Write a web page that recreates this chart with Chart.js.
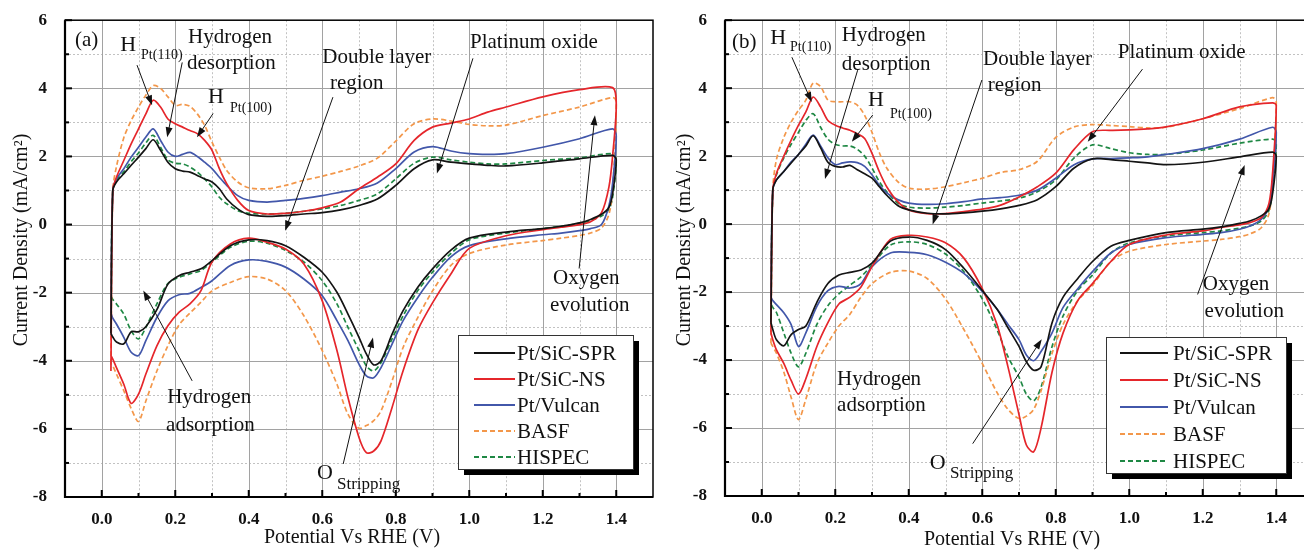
<!DOCTYPE html>
<html lang="en">
<head>
<meta charset="UTF-8" />
<title>Cyclic voltammograms (a) and (b)</title>
<script src="https://cdn.jsdelivr.net/npm/chart.js"></script>
<style>
  html, body { margin: 0; padding: 0; background: #fff; overflow: hidden; width: 1304px; height: 550px; }
  .painel { position: absolute; top: 0; width: 660px; height: 550px; }
  #painelA { left: 0; }
  #painelB { left: 660px; }
</style>
</head>
<body>
<div class="painel" id="painelA"><canvas id="chartA" width="660" height="550"></canvas></div>
<div class="painel" id="painelB"><canvas id="chartB" width="660" height="550"></canvas></div>
<script>
// ---- series / ticks ----
const seriesNames = ['Pt/SiC-SPR', 'Pt/SiC-NS', 'Pt/Vulcan', 'BASF', 'HISPEC'];
const xTicks = [0.0, 0.2, 0.4, 0.6, 0.8, 1.0, 1.2, 1.4];
const xMinor = [0.1, 0.3, 0.5, 0.7, 0.9, 1.1, 1.3];
const yTicks = [-8, -6, -4, -2, 0, 2, 4, 6];
const yMinor = [-7, -5, -3, -1, 1, 3, 5];

// potential (V vs RHE) of the anodic and cathodic sweeps
const fwdV = [0.025, 0.03, 0.04, 0.06, 0.08, 0.10, 0.12, 0.14, 0.16, 0.18, 0.20, 0.22, 0.24, 0.26, 0.28, 0.30, 0.32, 0.34, 0.37, 0.40,
              0.45, 0.50, 0.55, 0.60, 0.65, 0.70, 0.75, 0.80, 0.85, 0.90, 0.95, 1.00, 1.05, 1.10, 1.20, 1.30, 1.39];
const revV = [1.40, 1.39, 1.38, 1.36, 1.33, 1.30, 1.25, 1.20, 1.10, 1.00, 0.95, 0.90, 0.86, 0.82, 0.79, 0.76, 0.74, 0.72, 0.70, 0.67,
              0.64, 0.60, 0.55, 0.50, 0.45, 0.40, 0.35, 0.30, 0.27, 0.24, 0.21, 0.18, 0.15, 0.12, 0.10, 0.08, 0.06, 0.04, 0.03, 0.025];

// panel (a) current density, mA/cm2
const aSprFwd  = [-3.2, 1.0, 1.25, 1.49, 1.74, 1.98, 2.23, 2.49, 2.18, 1.83, 1.64, 1.57, 1.54, 1.44, 1.34, 1.25, 1.05, 0.75, 0.46, 0.29,
                  0.24, 0.26, 0.31, 0.35, 0.43, 0.56, 0.75, 1.15, 1.64, 1.9, 1.83, 1.78, 1.74, 1.72, 1.81, 1.93, 2.03];
const aNsFwd   = [-4.3, 1.0, 1.39, 1.88, 2.37, 2.81, 3.25, 3.65, 3.45, 3.1, 2.96, 2.86, 2.76, 2.67, 2.47, 2.18, 1.64, 1.2, 0.71, 0.41,
                  0.31, 0.33, 0.39, 0.49, 0.66, 1.05, 1.39, 1.78, 2.47, 2.86, 2.98, 3.1, 3.3, 3.45, 3.75, 3.96, 4.02];
const aVulFwd  = [-2.6, 1.0, 1.34, 1.64, 1.98, 2.27, 2.57, 2.81, 2.47, 2.13, 2.0, 2.06, 2.12, 2.0, 1.83, 1.64, 1.39, 1.15, 0.85, 0.71,
                  0.66, 0.71, 0.77, 0.85, 0.95, 1.05, 1.22, 1.64, 2.13, 2.29, 2.16, 2.08, 2.06, 2.08, 2.27, 2.52, 2.81];
const aBasfFwd = [-4.1, 1.0, 1.7, 2.55, 3.05, 3.45, 3.8, 4.08, 4.0, 3.75, 3.5, 3.53, 3.47, 3.25, 2.91, 2.42, 1.98, 1.59, 1.25, 1.08,
                  1.05, 1.15, 1.3, 1.42, 1.56, 1.72, 1.95, 2.45, 2.96, 3.1, 3.04, 2.94, 2.9, 2.92, 3.2, 3.45, 3.73];
const aHisFwd  = [-2.2, 1.0, 1.3, 1.55, 1.85, 2.1, 2.4, 2.62, 2.27, 1.9, 1.8, 1.78, 1.69, 1.54, 1.34, 1.1, 0.8, 0.61, 0.41, 0.33,
                  0.31, 0.33, 0.39, 0.46, 0.56, 0.71, 0.9, 1.34, 1.8, 1.98, 1.9, 1.83, 1.78, 1.78, 1.88, 1.96, 2.08];

const aSprRev  = [1.9, 0.9, 0.5, 0.3, 0.15, 0.05, -0.05, -0.12, -0.22, -0.4, -0.75, -1.3, -1.84, -2.53, -3.22, -4.0, -4.12, -3.8, -3.31, -2.63,
                  -1.99, -1.4, -0.96, -0.62, -0.47, -0.45, -0.62, -1.06, -1.3, -1.4, -1.5, -1.75, -2.5, -3.0, -3.15, -3.15, -3.5, -3.45, -3.3, -3.2];
const aNsRev   = [3.5, 2.0, 1.1, 0.35, 0.08, 0.0, -0.08, -0.15, -0.33, -0.7, -1.45, -2.3, -3.1, -4.29, -5.37, -6.35, -6.65, -6.7, -6.25, -5.08,
                  -3.7, -2.24, -1.16, -0.72, -0.52, -0.4, -0.57, -1.1, -1.94, -2.33, -2.58, -2.97, -3.56, -4.39, -4.98, -5.25, -4.69, -4.2, -3.95, -3.85];
const aVulRev  = [2.6, 1.2, 0.55, 0.0, -0.12, -0.18, -0.25, -0.3, -0.42, -0.62, -0.95, -1.55, -2.14, -2.82, -3.51, -4.2, -4.5, -4.44, -4.1, -3.41,
                  -2.82, -2.09, -1.6, -1.25, -1.08, -1.04, -1.2, -1.65, -1.85, -2.02, -2.06, -2.24, -2.73, -3.41, -3.85, -3.75, -3.31, -2.92, -2.75, -2.6];
const aBasfRev = [3.6, 1.0, 0.3, -0.1, -0.25, -0.32, -0.4, -0.47, -0.6, -0.85, -1.2, -1.95, -2.73, -3.61, -4.59, -5.47, -5.76, -5.9, -5.98, -5.57,
                  -4.69, -3.7, -2.68, -1.94, -1.6, -1.53, -1.7, -1.95, -2.28, -2.6, -2.95, -3.56, -4.3, -5.18, -5.78, -5.4, -4.88, -4.39, -4.15, -4.1];
const aHisRev  = [1.9, 0.8, 0.45, 0.25, 0.12, 0.04, -0.05, -0.12, -0.25, -0.45, -0.85, -1.4, -1.94, -2.68, -3.36, -4.05, -4.3, -4.15, -3.7, -3.02,
                  -2.33, -1.65, -1.1, -0.76, -0.55, -0.49, -0.67, -1.1, -1.35, -1.45, -1.55, -1.73, -2.33, -3.02, -3.36, -3.12, -2.63, -2.33, -2.2, -2.1];

// panel (b)
const bSprFwd  = [-2.9, 1.0, 1.3, 1.55, 1.8, 2.05, 2.3, 2.6, 2.25, 1.82, 1.7, 1.68, 1.73, 1.6, 1.48, 1.35, 1.1, 0.85, 0.55, 0.42,
                  0.32, 0.3, 0.33, 0.38, 0.45, 0.55, 0.72, 1.1, 1.65, 1.92, 1.9, 1.85, 1.8, 1.75, 1.82, 1.98, 2.12];
const bNsFwd   = [-3.2, 1.0, 1.49, 2.0, 2.47, 2.91, 3.3, 3.74, 3.45, 3.05, 2.91, 2.83, 2.76, 2.66, 2.52, 2.08, 1.54, 1.1, 0.66, 0.42,
                  0.31, 0.31, 0.37, 0.44, 0.56, 0.8, 1.1, 1.5, 2.2, 2.72, 2.76, 2.77, 2.8, 2.86, 3.1, 3.45, 3.57];
const bVulFwd  = [-2.15, 1.0, 1.3, 1.55, 1.83, 2.05, 2.35, 2.62, 2.3, 1.95, 1.75, 1.8, 1.83, 1.81, 1.7, 1.45, 1.15, 0.92, 0.72, 0.62,
                  0.58, 0.6, 0.66, 0.74, 0.78, 0.85, 1.0, 1.35, 1.75, 1.92, 1.93, 1.95, 1.98, 2.05, 2.22, 2.5, 2.85];
const bBasfFwd = [-3.5, 1.0, 1.9, 2.55, 3.0, 3.35, 3.65, 4.15, 4.05, 3.65, 3.6, 3.6, 3.6, 3.5, 3.2, 2.7, 2.1, 1.65, 1.25, 1.06,
                  1.03, 1.1, 1.22, 1.35, 1.52, 1.6, 1.85, 2.55, 2.86, 2.93, 2.9, 2.87, 2.83, 2.85, 3.1, 3.4, 3.72];
const bHisFwd  = [-2.35, 1.0, 1.45, 1.95, 2.35, 2.7, 3.05, 3.25, 2.85, 2.5, 2.35, 2.3, 2.3, 2.2, 2.0, 1.65, 1.25, 0.95, 0.62, 0.5,
                  0.47, 0.5, 0.55, 0.62, 0.68, 0.76, 0.95, 1.3, 1.95, 2.33, 2.22, 2.1, 2.05, 2.05, 2.18, 2.38, 2.5];

const bSprRev  = [2.0, 0.9, 0.45, 0.25, 0.1, 0.02, -0.08, -0.15, -0.25, -0.48, -0.65, -1.1, -1.6, -2.15, -2.9, -4.2, -4.3, -4.05, -3.6, -3.05,
                  -2.5, -1.95, -1.3, -0.75, -0.48, -0.38, -0.5, -1.15, -1.35, -1.42, -1.5, -1.75, -2.3, -3.0, -3.1, -3.25, -3.58, -3.4, -3.1, -2.9];
const bNsRev   = [3.5, 1.5, 0.6, 0.2, 0.05, -0.02, -0.1, -0.2, -0.32, -0.6, -1.1, -1.75, -2.25, -3.2, -4.35, -6.0, -6.7, -6.5, -5.6, -4.2,
                  -2.95, -1.9, -1.0, -0.55, -0.38, -0.33, -0.45, -1.25, -1.85, -2.15, -2.35, -2.9, -3.6, -4.55, -5.0, -4.6, -4.1, -3.7, -3.4, -3.2];
const bVulRev  = [2.7, 1.2, 0.5, 0.15, -0.05, -0.15, -0.25, -0.3, -0.4, -0.6, -0.85, -1.4, -1.9, -2.45, -3.2, -3.75, -4.02, -3.85, -3.4, -2.95,
                  -2.5, -1.98, -1.45, -1.12, -0.9, -0.83, -0.85, -1.25, -1.75, -1.88, -1.83, -1.96, -2.42, -3.2, -3.6, -2.96, -2.61, -2.37, -2.25, -2.15];
const bBasfRev = [3.6, 1.2, 0.3, -0.1, -0.28, -0.37, -0.45, -0.5, -0.6, -0.8, -1.1, -1.8, -2.25, -2.95, -3.8, -4.9, -5.45, -5.65, -5.72, -5.45,
                  -4.95, -4.1, -3.1, -2.2, -1.6, -1.38, -1.42, -1.75, -2.15, -2.65, -3.0, -3.5, -4.1, -5.15, -5.75, -5.1, -4.35, -3.8, -3.6, -3.5];
const bHisRev  = [2.4, 1.0, 0.4, 0.1, -0.05, -0.12, -0.2, -0.25, -0.35, -0.55, -0.85, -1.5, -1.95, -2.7, -3.6, -4.8, -5.2, -5.0, -4.5, -3.9,
                  -3.1, -2.2, -1.4, -0.88, -0.6, -0.52, -0.62, -1.2, -1.55, -1.8, -2.05, -2.4, -2.95, -3.8, -4.2, -3.8, -3.2, -2.6, -2.45, -2.35];

// ---- styles ----
const FONT = "'Liberation Serif', 'Times New Roman', Times, serif";
const seriesColors = ['#141414', '#e5262b', '#4257aa', '#f3974a', '#1f8844'];
const seriesDash = [[], [], [], [5, 3], [5, 3]];

// annotations in data units (V, mA/cm2); legend and titles in canvas pixels
const decorConfig = {
  chartA: {
    notes: [
      ['(a)', -0.073, 5.41, 21], ['H', 0.050, 5.26, 22], ['Pt(110)', 0.107, 4.97, 14],
      ['Hydrogen', 0.235, 5.5, 21], ['desorption', 0.232, 4.74, 21],
      ['H', 0.289, 3.74, 22], ['Pt(100)', 0.349, 3.41, 14],
      ['Double layer', 0.6, 4.91, 21], ['region', 0.621, 4.15, 21],
      ['Platinum oxide', 1.002, 5.35, 21],
      ['Oxygen', 1.228, -1.59, 21], ['evolution', 1.22, -2.38, 21],
      ['Hydrogen', 0.178, -5.09, 21], ['adsorption', 0.175, -5.91, 21],
      ['O', 0.586, -7.29, 22], ['Stripping', 0.64, -7.62, 17]
    ],
    arrows: [
      [0.096, 4.68, 0.137, 3.5], [0.219, 4.76, 0.178, 2.56], [0.303, 3.26, 0.259, 2.56],
      [0.629, 3.74, 0.499, -0.18], [1.01, 4.88, 0.912, 1.5], [1.299, -1.29, 1.342, 3.21],
      [0.246, -4.59, 0.113, -1.94], [0.657, -7.03, 0.738, -3.32]
    ],
    legend: { left: 458, top: 335, w: 175, h: 134, first: 18, step: 26, x1: 16, x2: 57, tx: 59 },
    yTitle: [22, 240], xTitle: [352, 538]
  },
  chartB: {
    notes: [
      ['(b)', -0.081, 5.35, 21], ['H', 0.023, 5.47, 22], ['Pt(110)', 0.077, 5.21, 14],
      ['Hydrogen', 0.218, 5.56, 21], ['desorption', 0.218, 4.71, 21],
      ['H', 0.289, 3.65, 22], ['Pt(100)', 0.349, 3.24, 14],
      ['Double layer', 0.602, 4.85, 21], ['region', 0.615, 4.09, 21],
      ['Platinum oxide', 0.969, 5.06, 21],
      ['Oxygen', 1.2, -1.77, 21], ['evolution', 1.205, -2.57, 21],
      ['Hydrogen', 0.205, -4.56, 21], ['adsorption', 0.205, -5.35, 21],
      ['O', 0.457, -7.05, 22], ['Stripping', 0.512, -7.35, 17]
    ],
    arrows: [
      [0.082, 4.91, 0.136, 3.59], [0.261, 4.53, 0.172, 1.33], [0.302, 3.21, 0.245, 2.42],
      [0.599, 4.24, 0.465, -0.01], [1.036, 4.56, 0.887, 2.42], [1.186, -2.07, 1.314, 1.74],
      [0.574, -6.46, 0.762, -3.39]
    ],
    legend: { left: 446, top: 337, w: 180, h: 136, first: 16, step: 27, x1: 14, x2: 62, tx: 67 },
    yTitle: [25, 240], xTitle: [352, 540]
  }
};

function loop(fwd, rev) {
  const pts = fwdV.map((v, i) => ({ x: v, y: fwd[i] }));
  revV.forEach((v, i) => pts.push({ x: v, y: rev[i] }));
  return pts;
}

function arrow(ctx, x1, y1, x2, y2) {
  const ang = Math.atan2(y2 - y1, x2 - x1);
  const len = 10, w = 3.5;
  const c = Math.cos(ang), s = Math.sin(ang);
  ctx.beginPath();
  ctx.moveTo(x1, y1);
  ctx.lineTo(x2 - c * len * 0.7, y2 - s * len * 0.7);
  ctx.stroke();
  ctx.beginPath();
  ctx.moveTo(x2, y2);
  ctx.lineTo(x2 - c * len + s * w, y2 - s * len - c * w);
  ctx.lineTo(x2 - c * len - s * w, y2 - s * len + c * w);
  ctx.closePath();
  ctx.fill();
}

const decor = {
  id: 'decor',
  beforeDatasetsDraw(chart) {
    const { ctx, chartArea: a, scales: { x, y } } = chart;
    ctx.save();
    ctx.lineWidth = 1;
    ctx.strokeStyle = '#c2c2c2';
    ctx.setLineDash([2, 2]);
    xMinor.forEach(v => { const px = Math.round(x.getPixelForValue(v)) + 0.5; ctx.beginPath(); ctx.moveTo(px, a.top); ctx.lineTo(px, a.bottom); ctx.stroke(); });
    yMinor.forEach(v => { const py = Math.round(y.getPixelForValue(v)) + 0.5; ctx.beginPath(); ctx.moveTo(a.left, py); ctx.lineTo(a.right, py); ctx.stroke(); });
    ctx.setLineDash([]);
    ctx.strokeStyle = '#a2a2a2';
    xTicks.forEach(v => { const px = Math.round(x.getPixelForValue(v)) + 0.5; ctx.beginPath(); ctx.moveTo(px, a.top); ctx.lineTo(px, a.bottom); ctx.stroke(); });
    yTicks.slice(1, -1).forEach(v => { const py = Math.round(y.getPixelForValue(v)) + 0.5; ctx.beginPath(); ctx.moveTo(a.left, py); ctx.lineTo(a.right, py); ctx.stroke(); });
    ctx.restore();
  },
  afterDatasetsDraw(chart) {
    const { ctx, chartArea: a, scales: { x, y } } = chart;
    const cfg = decorConfig[chart.canvas.id];
    ctx.save();
    // frame
    ctx.strokeStyle = '#000';
    ctx.lineWidth = 1.5;
    ctx.strokeRect(a.left, a.top, a.right - a.left, a.bottom - a.top);
    ctx.lineWidth = 2.2;
    ctx.beginPath();
    ctx.moveTo(a.left, a.top); ctx.lineTo(a.left, a.bottom); ctx.lineTo(a.right, a.bottom);
    ctx.stroke();
    // inward ticks
    ctx.lineWidth = 2;
    xTicks.concat(xMinor).forEach(v => {
      const px = x.getPixelForValue(v), l = xTicks.includes(v) ? 7 : 4;
      ctx.beginPath(); ctx.moveTo(px, a.bottom); ctx.lineTo(px, a.bottom - l); ctx.stroke();
    });
    yTicks.concat(yMinor).forEach(v => {
      const py = y.getPixelForValue(v), l = yTicks.includes(v) ? 7 : 4;
      ctx.beginPath(); ctx.moveTo(a.left, py); ctx.lineTo(a.left + l, py); ctx.stroke();
    });

    // annotations
    ctx.fillStyle = '#111';
    ctx.strokeStyle = '#111';
    ctx.lineWidth = 1;
    ctx.textAlign = 'left';
    ctx.textBaseline = 'middle';
    cfg.notes.forEach(([t, vx, vy, size]) => {
      ctx.font = size + 'px ' + FONT;
      ctx.fillText(t, x.getPixelForValue(vx), y.getPixelForValue(vy));
    });
    cfg.arrows.forEach(([x1, y1, x2, y2]) => {
      arrow(ctx, x.getPixelForValue(x1), y.getPixelForValue(y1), x.getPixelForValue(x2), y.getPixelForValue(y2));
    });

    // legend with drop shadow
    const L = cfg.legend;
    ctx.fillStyle = '#000';
    ctx.fillRect(L.left + 6, L.top + 6, L.w, L.h);
    ctx.fillStyle = '#fff';
    ctx.fillRect(L.left, L.top, L.w, L.h);
    ctx.lineWidth = 1;
    ctx.strokeStyle = '#333';
    ctx.strokeRect(L.left + 0.5, L.top + 0.5, L.w, L.h);
    ctx.font = '21px ' + FONT;
    seriesNames.forEach((name, k) => {
      const ry = L.top + L.first + k * L.step;
      ctx.strokeStyle = seriesColors[k];
      ctx.lineWidth = 1.8;
      ctx.setLineDash(seriesDash[k]);
      ctx.beginPath(); ctx.moveTo(L.left + L.x1, ry); ctx.lineTo(L.left + L.x2, ry); ctx.stroke();
      ctx.setLineDash([]);
      ctx.fillStyle = '#111';
      ctx.fillText(name, L.left + L.tx, ry + 1);
    });

    // axis titles
    ctx.fillStyle = '#111';
    ctx.textAlign = 'center';
    ctx.font = '20px ' + FONT;
    ctx.fillText('Potential Vs RHE (V)', cfg.xTitle[0], cfg.xTitle[1]);
    ctx.translate(cfg.yTitle[0], cfg.yTitle[1]);
    ctx.rotate(-Math.PI / 2);
    ctx.fillText('Current Density (mA/cm\u00B2)', 0, 0);
    ctx.restore();
  }
};

function makeChart(id, fwdSeries, revSeries, topPad, xAxisHeight) {
  return new Chart(document.getElementById(id), {
    type: 'scatter',
    data: {
      datasets: seriesNames.map((name, k) => ({
        label: name,
        data: loop(fwdSeries[k], revSeries[k]),
        showLine: true,
        borderColor: seriesColors[k],
        borderWidth: 1.7,
        borderDash: seriesDash[k],
        pointRadius: 0,
        tension: 0.3,
        fill: false
      }))
    },
    options: {
      responsive: false,
      animation: false,
      layout: { padding: { left: 0, right: 7, top: topPad, bottom: 0 } },
      plugins: { legend: { display: false }, tooltip: { enabled: false } },
      scales: {
        x: {
          type: 'linear', min: -0.1, max: 1.5,
          grid: { display: false }, border: { display: false },
          afterBuildTicks: s => { s.ticks = xTicks.map(v => ({ value: v })); },
          afterFit: s => { s.height = xAxisHeight; },
          ticks: { padding: 4, color: '#111', maxRotation: 0, autoSkip: false,
                   font: { family: FONT, size: 17, weight: 'bold' }, callback: v => Number(v).toFixed(1) }
        },
        y: {
          type: 'linear', min: -8, max: 6,
          grid: { display: false }, border: { display: false },
          afterBuildTicks: s => { s.ticks = yTicks.map(v => ({ value: v })); },
          afterFit: s => { s.width = 65; },
          ticks: { padding: 10, color: '#111', autoSkip: false,
                   font: { family: FONT, size: 17, weight: 'bold' }, callback: v => String(v) }
        }
      }
    },
    plugins: [decor]
  });
}

makeChart('chartA', [aSprFwd, aNsFwd, aVulFwd, aBasfFwd, aHisFwd], [aSprRev, aNsRev, aVulRev, aBasfRev, aHisRev], 20, 53);
makeChart('chartB', [bSprFwd, bNsFwd, bVulFwd, bBasfFwd, bHisFwd], [bSprRev, bNsRev, bVulRev, bBasfRev, bHisRev], 18, 54);
</script>
</body>
</html>
